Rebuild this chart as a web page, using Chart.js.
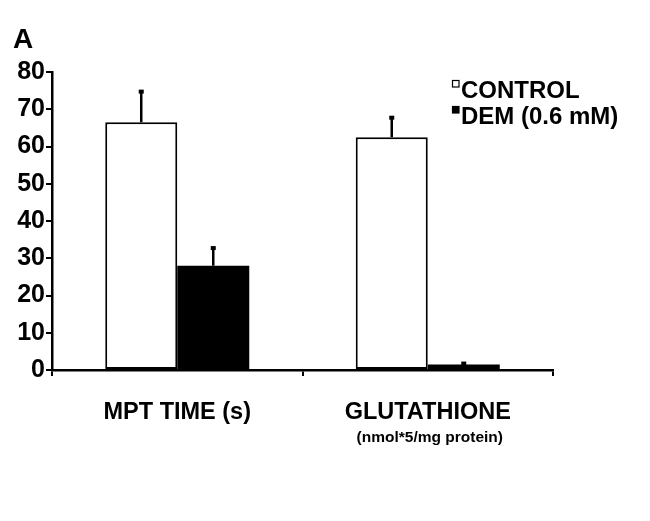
<!DOCTYPE html>
<html>
<head>
<meta charset="utf-8">
<script src="https://cdn.jsdelivr.net/npm/chart.js@4"></script>
<style>
  html, body { margin: 0; padding: 0; background: #fff; }
  #wrap { width: 650px; height: 521px; position: relative; }
</style>
</head>
<body>
<div id="wrap"><canvas id="barChart"></canvas></div>
<script>
const categories = ['MPT TIME (s)', 'GLUTATHIONE'];
const subLabels = ['', '(nmol*5/mg protein)'];
const controlValues = [66.5, 62.5];
const controlErrors = [8.5, 5.5];
const demValues = [28, 1.5];
const demErrors = [5, 0.5];
const yTicks = [0, 10, 20, 30, 40, 50, 60, 70, 80];

const FONT = '"Liberation Sans", Arial, Helvetica, sans-serif';

// error bars (only upward, like the original figure)
const errorBars = {
  id: 'errorBars',
  afterDatasetsDraw(chart) {
    const ctx = chart.ctx;
    const y = chart.scales.y;
    chart.data.datasets.forEach((ds, i) => {
      const meta = chart.getDatasetMeta(i);
      meta.data.forEach((bar, j) => {
        const top = y.getPixelForValue(ds.data[j] + ds.errors[j]);
        ctx.save();
        ctx.strokeStyle = '#000';
        ctx.lineWidth = 2.5;
        ctx.beginPath();
        ctx.moveTo(bar.x, bar.y);
        ctx.lineTo(bar.x, top);
        ctx.stroke();
        ctx.fillStyle = '#000';
        ctx.fillRect(bar.x - 2.5, top - 1, 5, 4);
        ctx.restore();
      });
    });
  }
};

// panel letter, legend and the small second line under a category
const extras = {
  id: 'extras',
  afterDraw(chart) {
    const ctx = chart.ctx;
    ctx.save();
    ctx.fillStyle = '#000';
    ctx.textBaseline = 'alphabetic';
    ctx.font = 'bold 28px ' + FONT;
    ctx.fillText('A', 13, 48);

    // legend
    ctx.font = 'bold 24px ' + FONT;
    chart.data.datasets.forEach((ds, i) => {
      const base = 98 + i * 26;
      ctx.lineWidth = 1.2;
      ctx.strokeStyle = '#000';
      ctx.fillStyle = ds.backgroundColor;
      ctx.fillRect(452, base - 18, 7, 7);
      ctx.strokeRect(452.5, base - 17.5, 6.5, 6.5);
      ctx.fillStyle = '#000';
      ctx.fillText(ds.label, 461, base);
    });

    // sub labels
    const x = chart.scales.x;
    ctx.font = 'bold 15.5px ' + FONT;
    ctx.textAlign = 'center';
    subLabels.forEach((s, i) => {
      if (s) ctx.fillText(s, x.getPixelForValue(i) + 2, 442);
    });
    ctx.restore();
  }
};

const chart = new Chart(document.getElementById('barChart'), {
  type: 'bar',
  data: {
    labels: categories,
    datasets: [
      {
        label: 'CONTROL', data: controlValues, errors: controlErrors,
        backgroundColor: '#ffffff', borderColor: '#000000', borderWidth: 2,
        borderSkipped: false
      },
      {
        label: 'DEM (0.6 mM)', data: demValues, errors: demErrors,
        backgroundColor: '#000000', borderColor: '#000000', borderWidth: 0
      }
    ]
  },
  options: {
    responsive: true,
    maintainAspectRatio: false,
    animation: false,
    layout: { padding: { left: 0, right: 97, top: 72, bottom: 0 } },
    datasets: { bar: { categoryPercentage: 0.575, barPercentage: 1.0 } },
    scales: {
      x: {
        offset: true,
        border: { color: '#000', width: 2.5 },
        grid: { offset: true, drawOnChartArea: false, color: '#000', lineWidth: 2, tickLength: 6 },
        ticks: { color: '#000', padding: 22, font: { family: FONT, size: 23.5, weight: 'bold' }, maxRotation: 0 },
        afterFit(scale) { scale.height = 151; }
      },
      y: {
        min: 0, max: 80,
        afterBuildTicks(scale) { scale.ticks = yTicks.map(v => ({ value: v })); },
        border: { color: '#000', width: 2.5 },
        grid: { drawOnChartArea: false, color: '#000', lineWidth: 2, tickLength: 6 },
        ticks: { color: '#000', padding: 1, font: { family: FONT, size: 25, weight: 'bold' } },
        afterFit(scale) { scale.width = 52; }
      }
    },
    plugins: {
      legend: { display: false },
      tooltip: { enabled: false }
    }
  },
  plugins: [errorBars, extras]
});
</script>
</body>
</html>
